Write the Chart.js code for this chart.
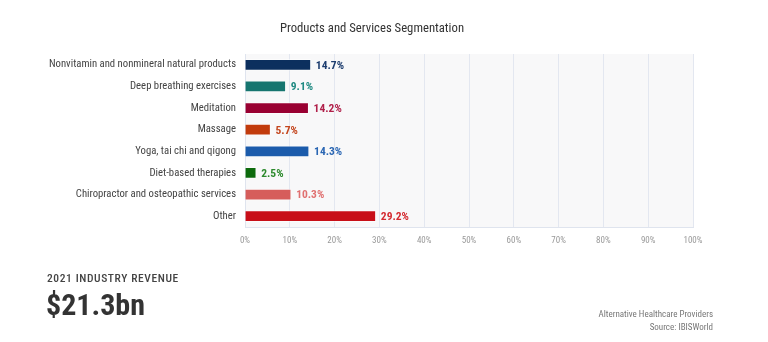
<!DOCTYPE html>
<html>
<head>
<meta charset="utf-8">
<script src="https://cdn.jsdelivr.net/npm/chart.js@4/dist/chart.umd.min.js"></script>
<style>
  html, body { margin:0; padding:0; background:#fff; width:768px; height:342px; overflow:hidden; }
  #wrap { position:absolute; left:0; top:0; width:768px; height:342px; }
  .t { position:absolute; font-family:"Roboto Condensed","Liberation Sans Narrow",Roboto,sans-serif; white-space:nowrap; }
</style>
</head>
<body>
<div id="wrap"><canvas id="c" width="768" height="342"></canvas></div>
<div class="t" style="left:0;width:744px;top:20px;text-align:center;font-size:12.7px;color:#333;">Products and Services Segmentation</div>
<div class="t" style="left:47px;top:271px;font-size:11.5px;color:#444;letter-spacing:0.6px;font-weight:500;">2021 INDUSTRY REVENUE</div>
<div class="t" style="left:46px;top:287px;font-size:30px;font-weight:bold;color:#333;">$21.3bn</div>
<div class="t" style="right:55px;top:308px;font-size:9px;color:#777;text-align:right;line-height:13px;">Alternative Healthcare Providers<br>Source: IBISWorld</div>
<script>
const categories = [
  "Nonvitamin and nonmineral natural products",
  "Deep breathing exercises",
  "Meditation",
  "Massage",
  "Yoga, tai chi and qigong",
  "Diet-based therapies",
  "Chiropractor and osteopathic services",
  "Other"
];
const shares = [14.7, 9.1, 14.2, 5.7, 14.3, 2.5, 10.3, 29.2];
const barColors = ["#0c2f5e","#16756f","#990032","#c23b0c","#1b5bab","#0c6a0c","#d65d5b","#c80f18"];
const labelColors = ["#1c3c6e","#1f8a82","#b0204a","#c4461e","#2a66b3","#2d8a2d","#e07070","#d42a30"];
const xTicks = [0,10,20,30,40,50,60,70,80,90,100];

const FONT = '"Roboto Condensed","Liberation Sans Narrow",Roboto,sans-serif';

const bgPlugin = {
  id:'bg',
  beforeDraw(chart){
    const {ctx, chartArea:a} = chart;
    ctx.save();
    ctx.fillStyle = '#f8f8f9';
    ctx.fillRect(a.left, a.top, a.right-a.left, a.bottom-a.top);
    ctx.restore();
  }
};
const valuePlugin = {
  id:'vals',
  afterDatasetsDraw(chart){
    const ctx = chart.ctx;
    const meta = chart.getDatasetMeta(0);
    ctx.save();
    ctx.font = 'bold 11.5px ' + FONT;
    ctx.textBaseline = 'middle';
    ctx.textAlign = 'left';
    meta.data.forEach((bar,i)=>{
      ctx.fillStyle = labelColors[i];
      ctx.fillText(shares[i].toFixed(1) + '%', bar.x + 5, bar.y + 1);
    });
    ctx.restore();
  }
};

new Chart(document.getElementById('c'), {
  type:'bar',
  data:{
    labels: categories,
    datasets:[{
      data: shares,
      backgroundColor: barColors,
      borderColor: 'rgba(255,255,255,0.5)',
      borderWidth: 1,
      barThickness: 11
    }]
  },
  options:{
    indexAxis:'y',
    responsive:false,
    animation:false,
    layout:{ padding:{ left:0, right:75, top:54, bottom:93 } },
    plugins:{ legend:{display:false}, tooltip:{enabled:false} },
    scales:{
      x:{
        min:0, max:100,
        afterBuildTicks(scale){ scale.ticks = xTicks.map(v=>({value:v})); },
        afterFit(scale){ scale.height = 22; },
        grid:{ color:'#e3e7f0', drawTicks:false, lineWidth:1 },
        border:{ color:'#dfe4ee' },
        ticks:{ padding:8, font:{ size:9, family:FONT }, color:'#999', callback:(v)=>v+'%' }
      },
      y:{
        afterFit(scale){ scale.width = 245; },
        grid:{ display:false, drawTicks:false },
        border:{ color:'#dfe4ee' },
        ticks:{ padding:9, font:{ size:10.7, family:FONT }, color:'#444' }
      }
    }
  },
  plugins:[bgPlugin, valuePlugin]
});
</script>
</body>
</html>
